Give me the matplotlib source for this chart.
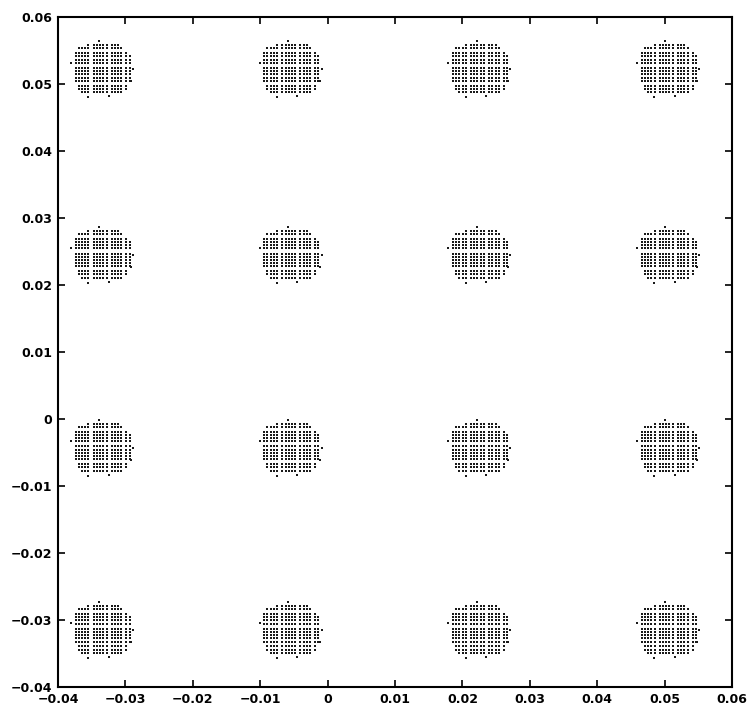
import numpy as np
import matplotlib
matplotlib.use("Agg")
import matplotlib.pyplot as plt

# Cluster centres (4x4 constellation)
center_x = [-0.0335, -0.0055, 0.0225, 0.0505]
center_y = [0.0522, 0.0245, -0.0043, -0.0315]

# Offsets of the dot grid inside each cluster (grouped columns / rows)
grid_dx = [-0.0039, -0.00342, -0.00294, -0.00246, -0.00198,
           -0.00122, -0.00074, -0.00026, 0.00022, 0.0007,
           0.00146, 0.00194, 0.00242, 0.0029,
           0.00366, 0.00414]
grid_dy = [0.0036, 0.00312,
           0.0024, 0.00192, 0.00144, 0.00096,
           0.0002, -0.00028, -0.00076, -0.00124, -0.00172,
           -0.00244, -0.00292, -0.0034]

# A few stray points around clusters (dx, dy relative to centre)
stray_dx = [-0.0004, 0.0046, -0.0046, 0.0010, -0.0020, 0.0043]
stray_dy = [0.0042, 0.0000, 0.0010, -0.0040, -0.0042, -0.0018]

xticks = [-0.04, -0.03, -0.02, -0.01, 0, 0.01, 0.02, 0.03, 0.04, 0.05, 0.06]
yticks = [-0.04, -0.03, -0.02, -0.01, 0, 0.01, 0.02, 0.03, 0.04, 0.05, 0.06]
xticklabels = ["\u22120.04", "\u22120.03", "\u22120.02", "\u22120.01", "0", "0.01",
               "0.02", "0.03", "0.04", "0.05", "0.06"]
yticklabels = ["\u22120.04", "\u22120.03", "\u22120.02", "\u22120.01", "0", "0.01",
               "0.02", "0.03", "0.04", "0.05", "0.06"]

fig = plt.figure(figsize=(7.5, 7.17), dpi=100)
ax = fig.add_axes([58 / 750, 1 - 687 / 717, (732 - 58) / 750, (687 - 17) / 717])

gx, gy = np.meshgrid(np.array(grid_dx), np.array(grid_dy))
gx = gx.ravel()
gy = gy.ravel()
# round the corners of each square cluster
keep = ((gx - 0.0001) / 0.0042) ** 4 + (gy / 0.0037) ** 4 <= 1.0
gx = gx[keep]
gy = gy[keep]

xs, ys = [], []
for cy in center_y:
    for cx in center_x:
        xs.append(cx + gx)
        ys.append(cy + gy)
        xs.append(cx + np.array(stray_dx))
        ys.append(cy + np.array(stray_dy))
xs = np.concatenate(xs)
ys = np.concatenate(ys)

ax.scatter(xs, ys, s=1.1, marker='s', c='#1a1a1a', linewidths=0)

ax.set_xlim(-0.04, 0.06)
ax.set_ylim(-0.04, 0.06)
ax.set_xticks(xticks)
ax.set_yticks(yticks)
ax.set_xticklabels(xticklabels)
ax.set_yticklabels(yticklabels)
ax.tick_params(direction='in', length=5, width=1.2, top=True, right=True,
               labelsize=9, pad=4)
for lab in ax.get_xticklabels() + ax.get_yticklabels():
    lab.set_fontweight('bold')
for sp in ax.spines.values():
    sp.set_linewidth(1.5)

fig.savefig("out.png", dpi=100)
